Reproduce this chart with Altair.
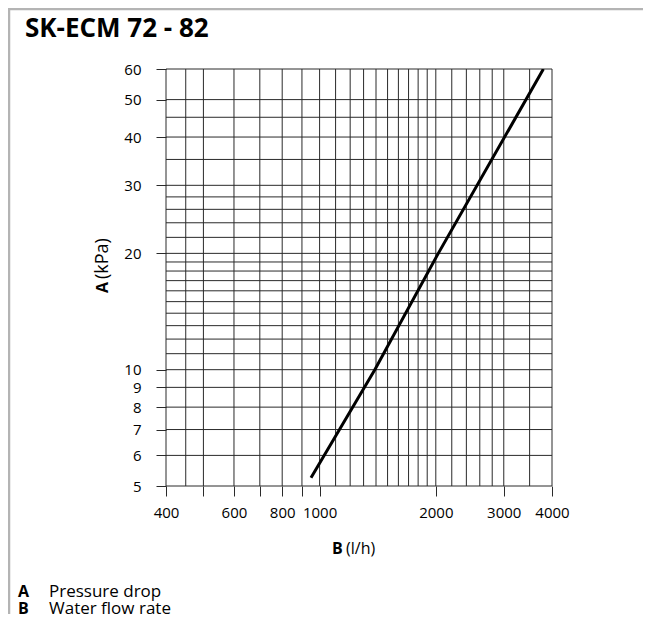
import altair as alt
import pandas as pd

# Curve (flow l/h, pressure drop kPa)
flow = [950, 1390, 2030, 3800]
pressure = [5.25, 10, 20, 60]

# Grid lines
x_grid = [400, 450, 500, 600, 700, 800, 900, 1000, 1100, 1200, 1300, 1400, 1500,
          1600, 1700, 1800, 1900, 2000, 2200, 2400, 2600, 2800, 3000, 3500, 4000]
y_grid = [5, 6, 7, 8, 9, 10, 11, 12, 13, 14, 15, 16, 17, 18, 19, 20,
          22, 24, 26, 28, 30, 35, 40, 45, 50, 60]

# Axis tick values / labels
x_ticks = [400, 500, 600, 700, 800, 900, 1000, 2000, 3000, 4000]
x_hidden = [500, 700, 900]
y_ticks = [5, 6, 7, 8, 9, 10, 20, 30, 40, 50, 60]

title_text = "SK-ECM 72 - 82"
legend_keys = ["A", "B"]
legend_texts = ["Pressure drop", "Water flow rate"]

FONT = "Open Sans"
GRID = "#2a2a2a"

xs = alt.Scale(type="log", domain=[400, 4000], nice=False)
ys = alt.Scale(type="log", domain=[5, 60], nice=False)

hidden_expr = " || ".join(f"datum.value == {v}" for v in x_hidden)
x_axis = alt.Axis(values=x_ticks, format="d", title=None, grid=False, domain=False,
                  labelExpr=f"({hidden_expr}) ? '' : datum.label",
                  tickSize=10, tickColor=GRID, labelPadding=9, labelFlush=False)
y_axis = alt.Axis(values=y_ticks, format="d", title=None, grid=False, domain=False,
                  tickSize=10, tickColor=GRID, labelPadding=15)

vgrid = alt.Chart(pd.DataFrame({"flow": x_grid})).mark_rule(
    color=GRID, strokeWidth=1).encode(x=alt.X("flow:Q", scale=xs, axis=x_axis))
hgrid = alt.Chart(pd.DataFrame({"pressure": y_grid})).mark_rule(
    color=GRID, strokeWidth=1).encode(y=alt.Y("pressure:Q", scale=ys, axis=y_axis))

curve = alt.Chart(pd.DataFrame({"flow": flow, "pressure": pressure})).mark_line(
    color="black", strokeWidth=3, clip=True).encode(
    x=alt.X("flow:Q", scale=xs, axis=x_axis),
    y=alt.Y("pressure:Q", scale=ys, axis=y_axis))


def txt(t, x, y, size=15, bold=False, angle=0, align="left", baseline="middle"):
    kw = dict(text=t, font=FONT, fontSize=size, fontWeight="bold" if bold else "normal",
              align=align, baseline=baseline, color="black")
    if angle:
        kw["angle"] = angle
    return alt.Chart(pd.DataFrame({"k": [0]})).mark_text(**kw).encode(
        x=alt.value(x), y=alt.value(y))


border_top = alt.Chart(pd.DataFrame({"k": [0]})).mark_rule(
    color="#b4b4b4", strokeWidth=2.5).encode(
    x=alt.value(-158), x2=alt.value(480), y=alt.value(-60))
border_left = alt.Chart(pd.DataFrame({"k": [0]})).mark_rule(
    color="#b4b4b4", strokeWidth=2.5).encode(
    x=alt.value(-157), y=alt.value(-61), y2=alt.value(545))

texts = [
    txt(title_text, -141, -32, size=26, bold=True, baseline="alphabetic"),
    txt("A", -63, 224, size=16, bold=True, angle=270),
    txt("(kPa)", -63, 210, size=18, angle=270),
    txt("B", 166, 480, size=16, bold=True),
    txt("(l/h)", 180, 480, size=16),
    txt(legend_keys[0], -148, 522.5, size=16, bold=True),
    txt(legend_texts[0], -117, 522.5, size=17),
    txt(legend_keys[1], -148, 539.5, size=16, bold=True),
    txt(legend_texts[1], -117, 539.5, size=17),
]

chart = alt.layer(border_top, border_left, vgrid, hgrid, curve, *texts).properties(
    width=386, height=417,
    autosize=alt.AutoSizeParams(type="none"),
    padding={"left": 158, "top": 61, "right": 91, "bottom": 132},
).configure_view(stroke=None).configure_axis(
    labelFont=FONT, labelFontSize=15, labelColor="black", tickWidth=1)

chart.save("out.html", embed_options={"renderer": "svg", "actions": False})
